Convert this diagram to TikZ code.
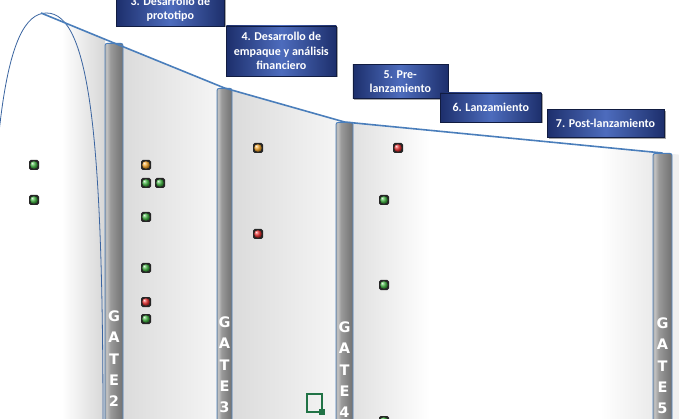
\documentclass[tikz,border=0pt]{standalone}
\usepackage{fontspec}
\newfontfamily\cfont{Carlito}
\newfontfamily\dfont{DejaVu Sans}
\usetikzlibrary{shadows}
\definecolor{navyD}{HTML}{1D2F6C}
\definecolor{navyL}{HTML}{4D6CBD}
\definecolor{lineblue}{HTML}{4A7EBB}
\definecolor{curveblue}{HTML}{3A64A0}
\definecolor{xlgreen}{HTML}{217346}
\definecolor{ledgreen}{HTML}{3DB03D}
\definecolor{ledorange}{HTML}{F2A225}
\definecolor{ledred}{HTML}{E52A2A}
\definecolor{pA}{HTML}{A8A8A8}
\definecolor{pB}{HTML}{C4C4C4}
\definecolor{pC}{HTML}{9A9A9A}
\definecolor{pD}{HTML}{828282}
\definecolor{pE}{HTML}{767676}
\definecolor{pF}{HTML}{929292}
\pgfdeclarehorizontalshading{pillarsh}{100bp}{color(0bp)=(pA); color(25bp)=(pA); color(29bp)=(pB); color(40bp)=(pC); color(60bp)=(pD); color(71bp)=(pE); color(75bp)=(pF); color(100bp)=(pF)}
\tikzset{
 stagebox/.style={draw=navyD!60!black, line width=0.5pt, left color=navyD, right color=navyD, middle color=navyL, text=white, font=\cfont\bfseries\fontsize{12}{14.5}\selectfont, align=center, inner sep=0pt, drop shadow={shadow xshift=1.5pt, shadow yshift=-1.5pt, opacity=0.35, fill=black}},
 pillar/.style={draw=lineblue, line width=0.9pt, shade, shading=pillarsh, rounded corners=2pt, minimum height=420pt, inner sep=0pt, anchor=north},
 gatetext/.style={text=white, font=\dfont\bfseries\fontsize{14.5}{21.3}\selectfont, align=center, inner sep=0pt, anchor=north},
 lamp/.style={fill=black!85, rounded corners=1.6pt, minimum size=10pt, inner sep=0pt, path picture={\shade[ball color=#1] (path picture bounding box.center) circle (3.8pt);}},
 topline/.style={draw=lineblue, line width=1.6pt, line join=round},
 curveline/.style={draw=curveblue, line width=0.8pt},
}
\begin{document}
\begin{tikzpicture}[x=1pt,y=-1pt]
\useasboundingbox (0,0) rectangle (679,419);
\clip (0,0) rectangle (679,419);
\fill[white] (0,0) rectangle (679,419);
% panels
\begin{scope}
\clip (0,13) -- (41,13) -- (114,43) -- (224.5,88) -- (344.5,122) -- (662.5,153) -- (679,154.6) -- (679,419) -- (0,419) -- cycle;
\shade[left color=white, right color=black!16] (62,0) rectangle (105,419);
\shade[left color=black!14, right color=black!4] (123,0) rectangle (217,419);
\shade[left color=black!14, right color=black!4] (232,0) rectangle (337,419);
\shade[left color=black!12, right color=white] (353,0) rectangle (430,419);
\shade[left color=white, right color=black!8] (600,0) rectangle (653,419);
\fill[black!6] (672,0) rectangle (679,419);
\end{scope}
% curve
\draw[curveline] (-11,425) .. controls (-11,140) and (3,13) .. (46.5,13) .. controls (90,13) and (103,140) .. (103,425);
% gates
\node[pillar, minimum width=18pt] (g2) at (114,43) {};
\node[pillar, minimum width=15pt] (g3) at (224.5,88) {};
\node[pillar, minimum width=17pt] (g4) at (344.5,122) {};
\node[pillar, minimum width=19pt] (g5) at (662.5,153) {};
\node[gatetext] (t2) at (114,310.5) {G\\A\\T\\E\\2};
\node[gatetext] (t3) at (224.5,316.5) {G\\A\\T\\E\\3};
\node[gatetext] (t4) at (344.5,321.5) {G\\A\\T\\E\\4};
\node[gatetext] (t5) at (662.5,317.5) {G\\A\\T\\E\\5};
% top line
\coordinate (peak) at (41,13);
\draw[topline] (peak) -- (g2.north) -- (g3.north) -- (g4.north) -- (g5.north);
% lamps
\node[lamp=ledgreen] (a1) at (34,165) {};
\node[lamp=ledgreen] (a2) at (34,200) {};
\node[lamp=ledorange] (b1) at (146,165) {};
\node[lamp=ledgreen] (b2) at (146,183) {};
\node[lamp=ledgreen] (b3) at (160,183) {};
\node[lamp=ledgreen] (b4) at (146,217) {};
\node[lamp=ledgreen] (b5) at (146,268) {};
\node[lamp=ledred] (b6) at (146,302) {};
\node[lamp=ledgreen] (b7) at (146,319) {};
\node[lamp=ledorange] (c1) at (258,148) {};
\node[lamp=ledred] (c2) at (258,234) {};
\node[lamp=ledred] (e1) at (398,148) {};
\node[lamp=ledgreen] (e2) at (384,200) {};
\node[lamp=ledgreen] (e3) at (384,285) {};
\node[lamp=ledgreen] (e4) at (384,421) {};
% stage boxes
\node[stagebox, minimum width=108pt, minimum height=34pt] (s3) at (170.3,9) {3. Desarrollo de\\prototipo};
\node[stagebox, minimum width=110pt, minimum height=50pt] (s4) at (281.3,51) {4. Desarrollo de\\empaque y análisis\\financiero};
\node[stagebox, minimum width=95pt, minimum height=34pt] (s5) at (400.3,81.7) {5. Pre-\\lanzamiento};
\node[stagebox, minimum width=101pt, minimum height=29pt] (s6) at (490.8,107.5) {6. Lanzamiento};
\node[stagebox, minimum width=117pt, minimum height=28pt] (s7) at (605.5,123.5) {7. Post-lanzamiento};
% selection mark
\draw[xlgreen, line width=2pt] (307,394.3) rectangle (321.7,412.3);
\fill[xlgreen] (319.3,409.3) rectangle (324.7,414.7);
\end{tikzpicture}
\end{document}
